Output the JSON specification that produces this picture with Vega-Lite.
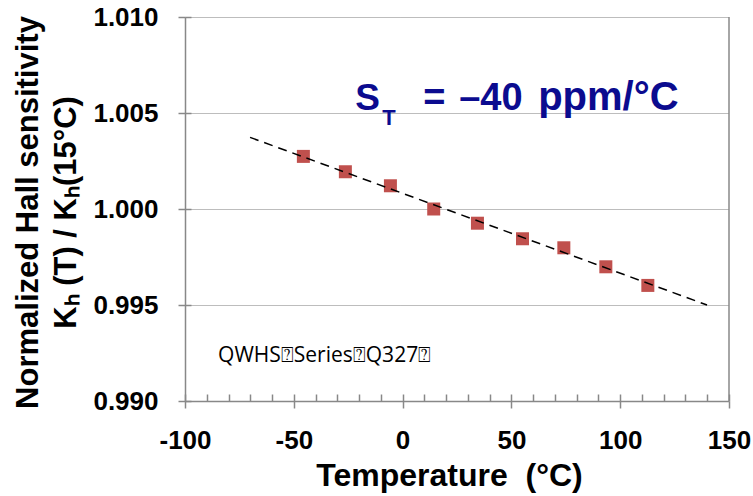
{
  "$schema": "https://vega.github.io/schema/vega-lite/v6.json",
  "width": 544,
  "height": 384,
  "autosize": {"type": "none"},
  "padding": {"left": 185, "top": 17, "right": 24, "bottom": 95},
  "background": "white",
  "config": {
    "view": {"stroke": null},
    "axis": {
      "labelFont": "Liberation Sans",
      "labelFontWeight": "bold",
      "labelFontSize": 26,
      "labelColor": "black",
      "labelFlush": false,
      "labelOverlap": false,
      "titleFont": "Liberation Sans",
      "titleFontWeight": "bold",
      "titleColor": "black",
      "domainColor": "#888888",
      "domainWidth": 1.5,
      "tickColor": "#888888",
      "tickWidth": 1.5
    }
  },
  "datasets": {
    "pts": [
      {"T": -45.6, "K": 1.00274},
      {"T": -26.3, "K": 1.00194},
      {"T": -5.6, "K": 1.00121},
      {"T": 14.3, "K": 1.0},
      {"T": 34.4, "K": 0.99926},
      {"T": 55.1, "K": 0.99845},
      {"T": 74.1, "K": 0.99798},
      {"T": 93.4, "K": 0.99699},
      {"T": 112.7, "K": 0.99602}
    ],
    "fit": [
      {"T": -70.1, "K": 1.00373},
      {"T": 139.9, "K": 0.995}
    ]
  },
  "resolve": {"axis": {"x": "independent", "y": "independent"}},
  "layer": [
    {
      "data": {"name": "pts"},
      "mark": {"type": "point", "shape": "square", "filled": true, "size": 169, "color": "#C0504D", "opacity": 1},
      "encoding": {
        "x": {
          "field": "T", "type": "quantitative",
          "scale": {"domain": [-100, 150], "nice": false, "zero": false},
          "axis": {
            "orient": "bottom",
            "values": [-100, -50, 0, 50, 100, 150],
            "labelExpr": "replace(datum.label, '−', '-')",
            "tickSize": 7,
            "labelPadding": 19,
            "grid": false,
            "title": "Temperature \u00a0(°C)",
            "titleFontSize": 32,
            "titleBaseline": "alphabetic",
            "titleAlign": "center",
            "titleX": 264,
            "titleY": 84
          }
        },
        "y": {
          "field": "K", "type": "quantitative",
          "scale": {"domain": [0.99, 1.01], "nice": false, "zero": false},
          "axis": {
            "orient": "left",
            "values": [0.99, 0.995, 1.0, 1.005, 1.01],
            "format": ".3f",
            "tickSize": 7,
            "labelPadding": 20,
            "grid": true,
            "gridColor": "#7a7a7a",
            "gridDash": [1, 1],
            "gridWidth": 1,
            "title": ["Normalized Hall sensitivity", "Kₕ (T) / Kₕ(15°C)"],
            "titleFontSize": 31,
            "titleLineHeight": 38,
            "titleAngle": 270,
            "titleBaseline": "alphabetic",
            "titleAlign": "center",
            "titleX": -148,
            "titleY": 195
          }
        }
      }
    },
    {
      "data": {"name": "fit"},
      "mark": {"type": "line", "color": "black", "strokeDash": [9, 6], "strokeWidth": 1.5},
      "encoding": {
        "x": {
          "field": "T", "type": "quantitative",
          "scale": {"domain": [-100, 150], "nice": false, "zero": false},
          "axis": {
            "orient": "bottom",
            "values": [-100, -90, -80, -70, -60, -50, -40, -30, -20, -10, 0, 10, 20, 30, 40, 50, 60, 70, 80, 90, 100, 110, 120, 130, 140, 150],
            "tickSize": -7,
            "labels": false,
            "domain": false,
            "grid": false,
            "title": null
          }
        },
        "y": {
          "field": "K", "type": "quantitative",
          "scale": {"domain": [0.99, 1.01], "nice": false, "zero": false},
          "axis": {
            "orient": "left",
            "values": [0.99, 0.995, 1.0, 1.005, 1.01],
            "tickSize": -6,
            "labels": false,
            "domain": false,
            "grid": false,
            "title": null
          }
        }
      }
    },
    {
      "data": {"values": [{"edge": 150}]},
      "mark": {"type": "rule", "color": "#888888", "strokeWidth": 1.5},
      "encoding": {
        "x": {"field": "edge", "type": "quantitative", "scale": {"domain": [-100, 150], "nice": false, "zero": false}, "axis": null}
      }
    },
    {
      "data": {"values": [{"T": -21.8, "K": 1.00516, "label": "S"}]},
      "mark": {"type": "text", "font": "Liberation Sans", "fontWeight": "bold", "fontSize": 37, "color": "#0b0b8f", "align": "left", "baseline": "alphabetic"},
      "encoding": {
        "x": {"field": "T", "type": "quantitative", "scale": {"domain": [-100, 150], "nice": false, "zero": false}, "axis": null},
        "y": {"field": "K", "type": "quantitative", "scale": {"domain": [0.99, 1.01], "nice": false, "zero": false}, "axis": null},
        "text": {"field": "label"}
      }
    },
    {
      "data": {"values": [{"T": -21.8, "K": 1.00516, "label": "T"}]},
      "mark": {"type": "text", "font": "Liberation Sans", "fontWeight": "bold", "fontSize": 22, "color": "#0b0b8f", "align": "left", "baseline": "alphabetic", "dx": 27, "dy": 15},
      "encoding": {
        "x": {"field": "T", "type": "quantitative", "scale": {"domain": [-100, 150], "nice": false, "zero": false}, "axis": null},
        "y": {"field": "K", "type": "quantitative", "scale": {"domain": [0.99, 1.01], "nice": false, "zero": false}, "axis": null},
        "text": {"field": "label"}
      }
    },
    {
      "data": {"values": [{"T": -21.8, "K": 1.00516, "label": "="}]},
      "mark": {"type": "text", "font": "Liberation Sans", "fontWeight": "bold", "fontSize": 38, "color": "#0b0b8f", "align": "left", "baseline": "alphabetic", "dx": 68},
      "encoding": {
        "x": {"field": "T", "type": "quantitative", "scale": {"domain": [-100, 150], "nice": false, "zero": false}, "axis": null},
        "y": {"field": "K", "type": "quantitative", "scale": {"domain": [0.99, 1.01], "nice": false, "zero": false}, "axis": null},
        "text": {"field": "label"}
      }
    },
    {
      "data": {"values": [{"T": -21.8, "K": 1.00516, "label": "–40"}]},
      "mark": {"type": "text", "font": "Liberation Sans", "fontWeight": "bold", "fontSize": 38, "color": "#0b0b8f", "align": "left", "baseline": "alphabetic", "dx": 104},
      "encoding": {
        "x": {"field": "T", "type": "quantitative", "scale": {"domain": [-100, 150], "nice": false, "zero": false}, "axis": null},
        "y": {"field": "K", "type": "quantitative", "scale": {"domain": [0.99, 1.01], "nice": false, "zero": false}, "axis": null},
        "text": {"field": "label"}
      }
    },
    {
      "data": {"values": [{"T": -21.8, "K": 1.00516, "label": "ppm/°C"}]},
      "mark": {"type": "text", "font": "Liberation Sans", "fontWeight": "bold", "fontSize": 40, "color": "#0b0b8f", "align": "left", "baseline": "alphabetic", "dx": 183},
      "encoding": {
        "x": {"field": "T", "type": "quantitative", "scale": {"domain": [-100, 150], "nice": false, "zero": false}, "axis": null},
        "y": {"field": "K", "type": "quantitative", "scale": {"domain": [0.99, 1.01], "nice": false, "zero": false}, "axis": null},
        "text": {"field": "label"}
      }
    },
    {
      "data": {"values": [{"T": -84.8, "K": 0.99203, "label": "QWHS⍰Series⍰Q327⍰"}]},
      "mark": {"type": "text", "font": "Open Sans", "fontSize": 21, "color": "black", "align": "left", "baseline": "alphabetic"},
      "encoding": {
        "x": {"field": "T", "type": "quantitative", "scale": {"domain": [-100, 150], "nice": false, "zero": false}, "axis": null},
        "y": {"field": "K", "type": "quantitative", "scale": {"domain": [0.99, 1.01], "nice": false, "zero": false}, "axis": null},
        "text": {"field": "label"}
      }
    }
  ]
}
